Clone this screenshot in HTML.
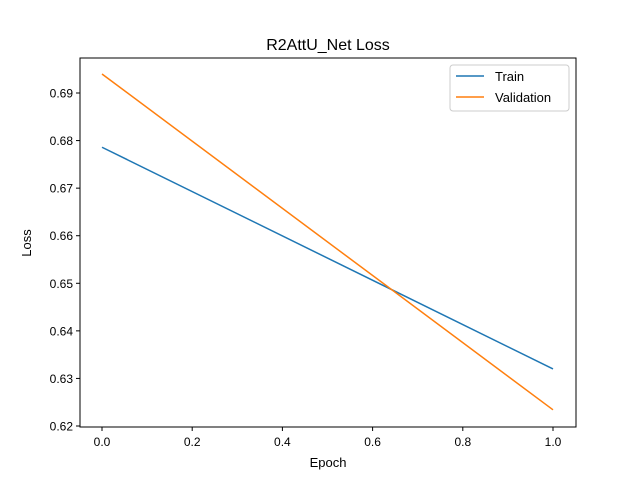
<!DOCTYPE html>
<html><head><meta charset="utf-8"><style>body{margin:0;background:#fff}svg{display:block}text{font-family:"Liberation Sans","DejaVu Sans",sans-serif;fill:#000}</style></head>
<body>
<svg id="chart" width="640" height="480">
<rect x="0" y="0" width="640" height="480" fill="#fff"/>
<text x="328" y="50" font-size="16" text-anchor="middle">R2AttU_Net Loss</text>
<g id="ticks"></g>
<g id="lines"></g>
<rect x="80" y="58" width="496" height="369" fill="none" stroke="#000" stroke-width="1"/>
<text x="328" y="467" font-size="13" text-anchor="middle">Epoch</text>
<text x="31" y="243" font-size="13" text-anchor="middle" transform="rotate(-90 31 243)">Loss</text>
<g>
<rect x="450" y="65" width="119" height="46" rx="3" fill="#fff" stroke="#ccc"/>
<line x1="456" y1="76" x2="484" y2="76" stroke="#1f77b4" stroke-width="1.5"/>
<text x="495" y="81" font-size="13">Train</text>
<line x1="456" y1="97" x2="484" y2="97" stroke="#ff7f0e" stroke-width="1.5"/>
<text x="495" y="102" font-size="13">Validation</text>
</g>
</svg>
<script>
const epochs = [0, 1];
const trainLoss = [0.6786, 0.6320];
const valLoss = [0.6940, 0.6234];
const xTicks = [0.0, 0.2, 0.4, 0.6, 0.8, 1.0];
const yTicks = [0.62, 0.63, 0.64, 0.65, 0.66, 0.67, 0.68, 0.69];
const NS = "http://www.w3.org/2000/svg";
function xs(v){return 102 + v*(553-102);}
function ys(v){return 426 - (v-0.62)/0.01*47.57;}
const tg = document.getElementById('ticks');
function mk(tag, attrs, parent){const e=document.createElementNS(NS,tag);for(const k in attrs)e.setAttribute(k,attrs[k]);parent.appendChild(e);return e;}
xTicks.forEach(t=>{
  const x=xs(t);
  const l=mk('line',{x1:x,x2:x,y1:427,y2:431,stroke:'#000'},tg);
  
  
  const tx=mk('text',{x:x,y:446,'font-size':12,'text-anchor':'middle'},tg);
  tx.textContent=t.toFixed(1);
  
  
});
yTicks.forEach(t=>{
  const y=ys(t);
  const l=mk('line',{x1:76,x2:80,y1:y,y2:y,stroke:'#000'},tg);
  
  
  const tx=mk('text',{x:73,y:y+4.5,'font-size':12,'text-anchor':'end'},tg);
  tx.textContent=t.toFixed(2);
  
  
});
const lg=document.getElementById('lines');
function series(vals,color,name){
  const p=mk('polyline',{points:epochs.map((e,i)=>xs(e)+','+ys(vals[i])).join(' '),fill:'none',stroke:color,'stroke-width':1.5},lg);
  
  
}
series(trainLoss,'#1f77b4','train-line');
series(valLoss,'#ff7f0e','validation-line');
</script>
</body></html>
